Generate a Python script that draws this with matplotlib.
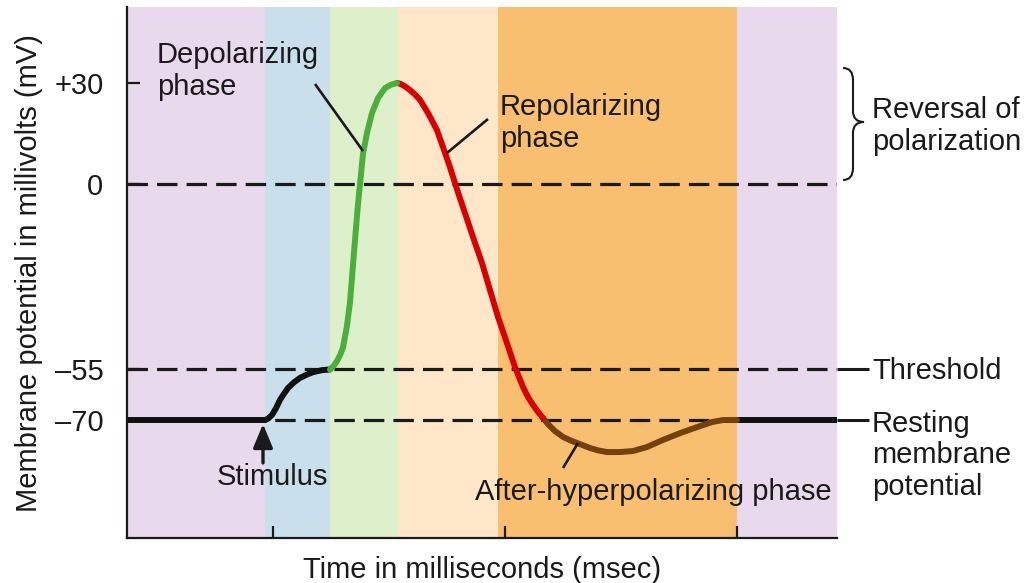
import matplotlib
matplotlib.use('Agg')
import matplotlib.pyplot as plt
from matplotlib.transforms import Affine2D
from matplotlib.path import Path
from matplotlib.patches import PathPatch, FancyArrowPatch

plt.rcParams['font.family'] = ['Liberation Sans', 'DejaVu Sans']

# phase bands along the time axis (ms)
band_edges = [0, 1.38, 2.03, 2.71, 3.71, 6.10, 7.10]
band_colors = ['#e8d9ec', '#c9e0ec', '#ddf0cb', '#fde7c8', '#f9bf70', '#e8d9ec']

# membrane potential trace: time (ms) / potential (mV)
rest_t = [0.0, 1.38]
rest_v = [-70, -70]
rise_t = [1.38, 1.41, 1.45, 1.49, 1.53, 1.57, 1.61, 1.67, 1.73, 1.80, 1.86, 1.95, 2.03]
rise_v = [-70, -69.6, -68.5, -66.5, -64, -62.2, -60.5, -58.8, -57.5, -56.5, -55.8, -55.2, -55]
depol_t = [2.03, 2.07, 2.10, 2.13, 2.16, 2.20, 2.23, 2.26, 2.29, 2.31, 2.33, 2.36, 2.40,
           2.45, 2.51, 2.58, 2.64, 2.70]
depol_v = [-55, -53.8, -52.5, -50.8, -48.5, -42, -35, -24, -13, -6, 0, 9, 15.2,
           21.1, 25.5, 28.5, 29.5, 30]
repol_t = [2.70, 2.73, 2.78, 2.83, 2.88, 2.93, 3.01, 3.10, 3.16, 3.23, 3.28, 3.33, 3.38,
           3.46, 3.55, 3.63, 3.71, 3.80, 3.88, 3.96, 4.01, 4.06, 4.11, 4.16]
repol_v = [30, 29.8, 29.0, 27.9, 26.6, 25, 21.1, 16, 11, 5, 0.3, -4.2, -8.6,
           -15.7, -23.4, -31.4, -39.4, -47.2, -54.3, -60.2, -63.2, -65.5, -67.6, -69.4]
hyper_t = [4.16, 4.21, 4.28, 4.36, 4.43, 4.50, 4.63, 4.71, 4.80, 4.93, 5.06, 5.20, 5.36,
           5.53, 5.70, 5.85, 5.96, 6.10]
hyper_v = [-69.4, -71.2, -73.3, -75, -76, -76.8, -78.3, -79, -79.5, -79.5, -79.2, -78, -75.9,
           -73.9, -72.1, -70.6, -70, -70]
tail_t = [6.10, 7.10]
tail_v = [-70, -70]

ref_levels = [0, -55, -70]
ytick_vals = [30, 0, -55, -70]
ytick_labels = ['+30', '0', '\u201355', '\u201370']
xtick_vals = [1.46, 3.78, 6.10]

W, H = 1025, 583
FS = 21
INK = '#1a1a1a'

fig = plt.figure(figsize=(W / 100, H / 100), dpi=100)
ax = fig.add_axes([127 / W, (H - 538) / H, (837 - 127) / W, (538 - 7) / H])
px = Affine2D().scale(1 / W, -1 / H).translate(0, 1) + fig.transFigure

for i, c in enumerate(band_colors):
    ax.axvspan(band_edges[i], band_edges[i + 1], color=c, lw=0, zorder=0)

for lv in ref_levels:
    ax.axhline(lv, color=INK, lw=2.3, ls=(0, (6.4, 2.85)), zorder=1)

kw = dict(lw=4.3, solid_capstyle='round', solid_joinstyle='round', zorder=3)
ax.plot(rest_t, rest_v, color='#111111', **kw)
ax.plot(rise_t, rise_v, color='#111111', **kw)
ax.plot(tail_t, tail_v, color='#111111', **kw)
ax.plot(hyper_t, hyper_v, color='#74400f', **kw)
ax.plot(repol_t, repol_v, color='#d80000', **kw)
ax.plot(depol_t, depol_v, color='#4caf3c', **kw)

ax.set_xlim(0, 7.10)
ax.set_ylim(-105.0, 52.55)
for s in ['top', 'right']:
    ax.spines[s].set_visible(False)
for s in ['left', 'bottom']:
    ax.spines[s].set_color(INK)
    ax.spines[s].set_linewidth(1.6)
    ax.spines[s].set_zorder(4)

ax.set_xticks(xtick_vals, labels=['' for _ in xtick_vals])
ax.set_yticks(ytick_vals, labels=ytick_labels)
ax.tick_params(axis='x', direction='in', length=8.6, width=1.6, color=INK)
ax.tick_params(axis='y', direction='in', length=9.5, width=1.6, color=INK,
               pad=17, labelsize=FS, labelcolor=INK)


def label(x, y, s, **k):
    fig.text(x, y, s, transform=px, fontsize=FS, va='baseline', color=INK, **k)


def leader(x0, y0, x1, y1, lw=1.9):
    fig.add_artist(plt.Line2D([x0, x1], [y0, y1], transform=px, color=INK, lw=lw,
                              solid_capstyle='butt'))


label(157, 63, 'Depolarizing')
label(157, 95, 'phase')
leader(315, 84, 363, 151)

label(500, 115, 'Repolarizing')
label(500, 147, 'phase')
leader(447, 153, 488, 119)

label(475, 500, 'After-hyperpolarizing phase')
leader(563, 468, 578, 443)

label(217, 485, 'Stimulus')
fig.add_artist(FancyArrowPatch((263, 463), (263, 424), transform=px,
                               arrowstyle='-|>,head_length=1.45,head_width=0.6',
                               mutation_scale=10, lw=2.4, color=INK,
                               shrinkA=0, shrinkB=0))

label(872, 379, 'Threshold')
leader(837, 369, 869, 369, lw=2.2)
label(872, 432, 'Resting')
label(872, 463, 'membrane')
label(872, 495, 'potential')
leader(837, 420, 869, 420, lw=2.2)

label(872, 118, 'Reversal of')
label(872, 150, 'polarization')
brace = Path([(843, 68), (853, 68), (853, 80), (853, 111), (853, 122), (864, 122),
              (853, 122), (853, 133), (853, 168), (853, 180), (843, 180)],
             [Path.MOVETO, Path.CURVE3, Path.CURVE3, Path.LINETO, Path.CURVE3, Path.CURVE3,
              Path.CURVE3, Path.CURVE3, Path.LINETO, Path.CURVE3, Path.CURVE3])
fig.add_artist(PathPatch(brace, transform=px, fill=False, lw=1.5, color=INK))

label(482, 578, 'Time in milliseconds (msec)', ha='center')
fig.text(37, 273, 'Membrane potential in millivolts (mV)', transform=px, fontsize=FS,
         rotation=90, rotation_mode='anchor', ha='center', va='baseline', color=INK)

fig.savefig('out.png', dpi=100)
